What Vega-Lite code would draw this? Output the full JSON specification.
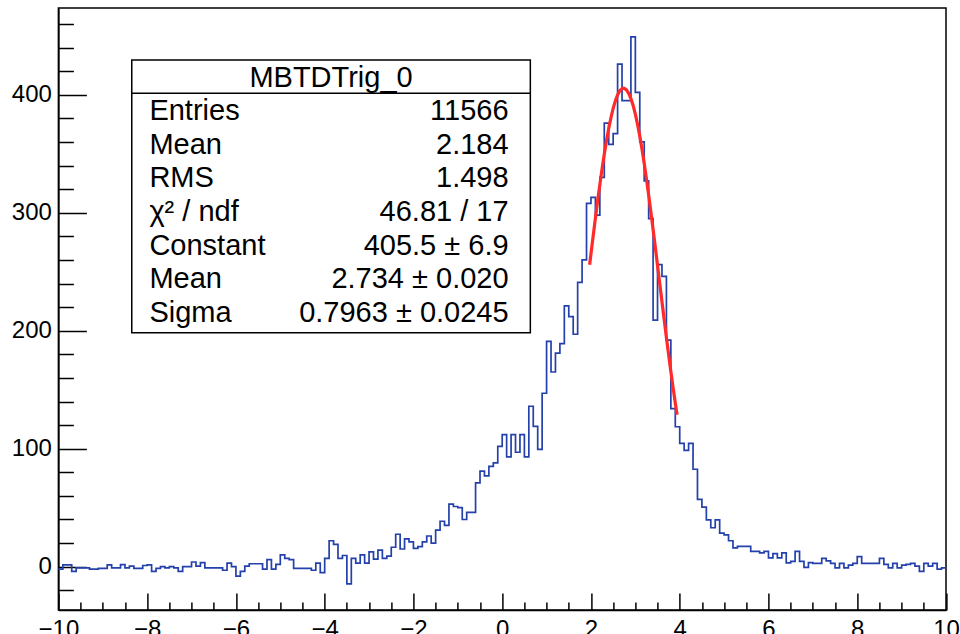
{
  "$schema": "https://vega.github.io/schema/vega-lite/v6.json",
  "width": 887.6,
  "height": 602,
  "autosize": {"type": "none"},
  "padding": {"left": 58.4, "top": 8, "right": 14, "bottom": 24},
  "background": "white",
  "config": {
    "view": {"stroke": "black", "strokeWidth": 1.5},
    "font": "Liberation Sans",
    "axis": {"grid": false, "title": null, "domainColor": "black", "domainWidth": 1.5, "tickColor": "black", "tickWidth": 1.5, "labelColor": "black", "labelFont": "Liberation Sans", "labelFontSize": 24, "labelFlush": false, "labelOverlap": false}
  },
  "datasets": {
    "hist": [
      {"x": -10.0, "y": -2}, {"x": -9.9, "y": 1.5}, {"x": -9.8, "y": 1.5}, {"x": -9.7, "y": -4}, {"x": -9.6, "y": -1},
      {"x": -9.5, "y": -1}, {"x": -9.4, "y": -1}, {"x": -9.3, "y": -2}, {"x": -9.2, "y": -2}, {"x": -9.1, "y": -1.5},
      {"x": -9.0, "y": -1.5}, {"x": -8.9, "y": 1.5}, {"x": -8.8, "y": -1}, {"x": -8.7, "y": -1}, {"x": -8.6, "y": 1.7},
      {"x": -8.5, "y": -1}, {"x": -8.4, "y": 0.5}, {"x": -8.3, "y": -1.5}, {"x": -8.2, "y": -1.5}, {"x": -8.1, "y": 1},
      {"x": -8.0, "y": 1.5}, {"x": -7.9, "y": -4}, {"x": -7.8, "y": -1.5}, {"x": -7.7, "y": 0}, {"x": -7.6, "y": -1},
      {"x": -7.5, "y": 0}, {"x": -7.4, "y": -1}, {"x": -7.3, "y": -4}, {"x": -7.2, "y": 0}, {"x": -7.1, "y": 0},
      {"x": -7.0, "y": 4}, {"x": -6.9, "y": 0.5}, {"x": -6.8, "y": 3.5}, {"x": -6.7, "y": -1}, {"x": -6.6, "y": -1},
      {"x": -6.5, "y": -1}, {"x": -6.4, "y": -1}, {"x": -6.3, "y": -3}, {"x": -6.2, "y": 3}, {"x": -6.1, "y": 0},
      {"x": -6.0, "y": -8}, {"x": -5.9, "y": -4}, {"x": -5.8, "y": 0.5}, {"x": -5.7, "y": 2.5}, {"x": -5.6, "y": 2.5},
      {"x": -5.5, "y": 2.5}, {"x": -5.4, "y": -2}, {"x": -5.3, "y": 6}, {"x": -5.2, "y": -2}, {"x": -5.1, "y": 2},
      {"x": -5.0, "y": 10}, {"x": -4.9, "y": 7}, {"x": -4.8, "y": 6}, {"x": -4.7, "y": -1.5}, {"x": -4.6, "y": -1.5},
      {"x": -4.5, "y": -1.5}, {"x": -4.4, "y": -1.5}, {"x": -4.3, "y": -3}, {"x": -4.2, "y": 3}, {"x": -4.1, "y": -5},
      {"x": -4.0, "y": 7}, {"x": -3.9, "y": 22}, {"x": -3.8, "y": 19}, {"x": -3.7, "y": 7}, {"x": -3.6, "y": 9.5},
      {"x": -3.5, "y": -14.5}, {"x": -3.4, "y": 7}, {"x": -3.3, "y": 3}, {"x": -3.2, "y": 10}, {"x": -3.1, "y": 3},
      {"x": -3.0, "y": 12.5}, {"x": -2.9, "y": 6.5}, {"x": -2.8, "y": 14}, {"x": -2.7, "y": 7}, {"x": -2.6, "y": 9},
      {"x": -2.5, "y": 16.5}, {"x": -2.4, "y": 27.5}, {"x": -2.3, "y": 15}, {"x": -2.2, "y": 23.5}, {"x": -2.1, "y": 21},
      {"x": -2.0, "y": 15.5}, {"x": -1.9, "y": 17}, {"x": -1.8, "y": 21}, {"x": -1.7, "y": 26}, {"x": -1.6, "y": 20},
      {"x": -1.5, "y": 31}, {"x": -1.4, "y": 38.5}, {"x": -1.3, "y": 35}, {"x": -1.2, "y": 53}, {"x": -1.1, "y": 51},
      {"x": -1.0, "y": 50}, {"x": -0.9, "y": 40}, {"x": -0.8, "y": 46}, {"x": -0.7, "y": 46}, {"x": -0.6, "y": 71},
      {"x": -0.5, "y": 81}, {"x": -0.4, "y": 77}, {"x": -0.3, "y": 85}, {"x": -0.2, "y": 88}, {"x": -0.1, "y": 102},
      {"x": 0.0, "y": 112}, {"x": 0.1, "y": 93}, {"x": 0.2, "y": 112}, {"x": 0.3, "y": 97}, {"x": 0.4, "y": 112},
      {"x": 0.5, "y": 93}, {"x": 0.6, "y": 136}, {"x": 0.7, "y": 119}, {"x": 0.8, "y": 99.5}, {"x": 0.9, "y": 147},
      {"x": 1.0, "y": 191}, {"x": 1.1, "y": 165}, {"x": 1.2, "y": 181}, {"x": 1.3, "y": 189}, {"x": 1.4, "y": 221},
      {"x": 1.5, "y": 212}, {"x": 1.6, "y": 197}, {"x": 1.7, "y": 241}, {"x": 1.8, "y": 260}, {"x": 1.9, "y": 308},
      {"x": 2.0, "y": 313}, {"x": 2.1, "y": 298}, {"x": 2.2, "y": 330}, {"x": 2.3, "y": 376}, {"x": 2.4, "y": 358},
      {"x": 2.5, "y": 367}, {"x": 2.6, "y": 426}, {"x": 2.7, "y": 395}, {"x": 2.8, "y": 395}, {"x": 2.9, "y": 449},
      {"x": 3.0, "y": 402}, {"x": 3.1, "y": 360}, {"x": 3.2, "y": 327}, {"x": 3.3, "y": 295}, {"x": 3.4, "y": 209},
      {"x": 3.5, "y": 256}, {"x": 3.6, "y": 246}, {"x": 3.7, "y": 192}, {"x": 3.8, "y": 134}, {"x": 3.9, "y": 118.6},
      {"x": 4.0, "y": 104.5}, {"x": 4.1, "y": 98.5}, {"x": 4.2, "y": 104.5}, {"x": 4.3, "y": 82.6}, {"x": 4.4, "y": 57},
      {"x": 4.5, "y": 50.5}, {"x": 4.6, "y": 39.7}, {"x": 4.7, "y": 33}, {"x": 4.8, "y": 39.7}, {"x": 4.9, "y": 28.5},
      {"x": 5.0, "y": 27}, {"x": 5.1, "y": 22}, {"x": 5.2, "y": 16}, {"x": 5.3, "y": 17.3}, {"x": 5.4, "y": 17.3},
      {"x": 5.5, "y": 17.3}, {"x": 5.6, "y": 13}, {"x": 5.7, "y": 13}, {"x": 5.8, "y": 11.7}, {"x": 5.9, "y": 13},
      {"x": 6.0, "y": 7.4}, {"x": 6.1, "y": 11}, {"x": 6.2, "y": 7.4}, {"x": 6.3, "y": 11.7}, {"x": 6.4, "y": 3.2},
      {"x": 6.5, "y": 4.5}, {"x": 6.6, "y": 13}, {"x": 6.7, "y": 4.5}, {"x": 6.8, "y": -0.5}, {"x": 6.9, "y": 3.5},
      {"x": 7.0, "y": 2.8}, {"x": 7.1, "y": 2.8}, {"x": 7.2, "y": 7}, {"x": 7.3, "y": 5}, {"x": 7.4, "y": 2.8},
      {"x": 7.5, "y": -1}, {"x": 7.6, "y": 2.8}, {"x": 7.7, "y": -1}, {"x": 7.8, "y": 1.4}, {"x": 7.9, "y": 2.8},
      {"x": 8.0, "y": 8.5}, {"x": 8.1, "y": 2.8}, {"x": 8.2, "y": 2.8}, {"x": 8.3, "y": 2.8}, {"x": 8.4, "y": 2.8},
      {"x": 8.5, "y": 7}, {"x": 8.6, "y": 2}, {"x": 8.7, "y": -1}, {"x": 8.8, "y": 2.8}, {"x": 8.9, "y": -1},
      {"x": 9.0, "y": 1.4}, {"x": 9.1, "y": 2}, {"x": 9.2, "y": 2.8}, {"x": 9.3, "y": 0.5}, {"x": 9.4, "y": -4},
      {"x": 9.5, "y": 2.8}, {"x": 9.6, "y": 0.5}, {"x": 9.7, "y": 2.8}, {"x": 9.8, "y": -2}, {"x": 9.9, "y": -1},
      {"x": 10.0, "y": -1}
    ],
    "fit": [
      {"x": 1.97, "y": 255.9}, {"x": 2.0, "y": 265.2}, {"x": 2.05, "y": 280.4}, {"x": 2.1, "y": 295.4}, {"x": 2.15, "y": 309.9},
      {"x": 2.2, "y": 323.8}, {"x": 2.25, "y": 337.1}, {"x": 2.3, "y": 349.5}, {"x": 2.35, "y": 361.0}, {"x": 2.4, "y": 371.4},
      {"x": 2.45, "y": 380.5}, {"x": 2.5, "y": 388.4}, {"x": 2.55, "y": 394.8}, {"x": 2.6, "y": 399.8}, {"x": 2.65, "y": 403.3},
      {"x": 2.7, "y": 405.1}, {"x": 2.734, "y": 405.5}, {"x": 2.75, "y": 405.4}, {"x": 2.8, "y": 404.1}, {"x": 2.85, "y": 401.2},
      {"x": 2.9, "y": 396.8}, {"x": 2.95, "y": 390.9}, {"x": 3.0, "y": 383.5}, {"x": 3.05, "y": 374.8}, {"x": 3.1, "y": 364.9},
      {"x": 3.15, "y": 353.8}, {"x": 3.2, "y": 341.7}, {"x": 3.25, "y": 328.7}, {"x": 3.3, "y": 315.0}, {"x": 3.35, "y": 300.6},
      {"x": 3.4, "y": 285.8}, {"x": 3.45, "y": 270.7}, {"x": 3.5, "y": 255.3}, {"x": 3.55, "y": 239.9}, {"x": 3.6, "y": 224.5},
      {"x": 3.65, "y": 209.2}, {"x": 3.7, "y": 194.3}, {"x": 3.75, "y": 179.7}, {"x": 3.8, "y": 165.5}, {"x": 3.85, "y": 151.9},
      {"x": 3.9, "y": 138.8}, {"x": 3.94, "y": 128.8}
    ],
    "stats": [
      {"row": 1, "name": "Entries", "value": "11566"},
      {"row": 2, "name": "Mean", "value": "2.184"},
      {"row": 3, "name": "RMS", "value": "1.498"},
      {"row": 4, "name": "χ² / ndf", "value": "46.81 / 17"},
      {"row": 5, "name": "Constant", "value": "405.5 ± 6.9"},
      {"row": 6, "name": "Mean", "value": "2.734 ± 0.020"},
      {"row": 7, "name": "Sigma", "value": "0.7963 ± 0.0245"}
    ],
    "title": [{"row": 0, "name": "MBTDTrig_0"}]
  },
  "layer": [
    {
      "data": {"name": "hist"},
      "mark": {"type": "line", "interpolate": "step-after", "color": "#2440aa", "strokeWidth": 1.7},
      "encoding": {
        "x": {"field": "x", "type": "quantitative", "scale": {"domain": [-10, 10], "nice": false, "zero": false},
          "axis": {"orient": "bottom", "values": [-10, -8, -6, -4, -2, 0, 2, 4, 6, 8, 10], "tickSize": -17, "labelPadding": 24}},
        "y": {"field": "y", "type": "quantitative", "scale": {"domain": [-36.7, 473.5], "nice": false, "zero": false},
          "axis": {"orient": "left", "values": [0, 100, 200, 300, 400], "tickSize": -28, "labelPadding": 35}}
      }
    },
    {
      "data": {"name": "fit"},
      "mark": {"type": "line", "color": "#ff2a2a", "strokeWidth": 3.2},
      "encoding": {
        "x": {"field": "x", "type": "quantitative",
          "axis": {"orient": "bottom", "values": [-9.5, -9, -8.5, -7.5, -7, -6.5, -5.5, -5, -4.5, -3.5, -3, -2.5, -1.5, -1, -0.5, 0.5, 1, 1.5, 2.5, 3, 3.5, 4.5, 5, 5.5, 6.5, 7, 7.5, 8.5, 9, 9.5], "tickSize": -8, "labels": false, "domain": false}},
        "y": {"field": "y", "type": "quantitative", "scale": {"domain": [-36.7, 473.5], "nice": false, "zero": false},
          "axis": {"orient": "left", "values": [-20, 20, 40, 60, 80, 120, 140, 160, 180, 220, 240, 260, 280, 320, 340, 360, 380, 420, 440, 460], "tickSize": -15, "labels": false, "domain": false}}
      }
    },
    {
      "data": {"values": [{}]},
      "mark": {"type": "rect", "fill": "white", "stroke": "black", "strokeWidth": 1.5},
      "encoding": {
        "x": {"datum": -8.347, "type": "quantitative", "axis": null},
        "x2": {"datum": 0.634},
        "y": {"datum": 429.4, "type": "quantitative", "scale": {"domain": [-36.7, 473.5], "nice": false, "zero": false}, "axis": null},
        "y2": {"datum": 198.3}
      }
    },
    {
      "data": {"values": [{}]},
      "mark": {"type": "rule", "color": "black", "strokeWidth": 1.5},
      "encoding": {
        "x": {"datum": -8.347, "type": "quantitative", "axis": null},
        "x2": {"datum": 0.634},
        "y": {"datum": 401.2, "type": "quantitative", "scale": {"domain": [-36.7, 473.5], "nice": false, "zero": false}, "axis": null}
      }
    },
    {
      "data": {"name": "title"},
      "mark": {"type": "text", "align": "center", "baseline": "alphabetic", "fontSize": 29, "font": "Liberation Sans", "color": "black"},
      "encoding": {
        "x": {"datum": -3.857, "type": "quantitative", "axis": null},
        "y": {"field": "row", "type": "quantitative", "scale": {"domain": [0, 7], "range": [78.7, 313.8]}, "axis": null},
        "text": {"field": "name"}
      }
    },
    {
      "data": {"name": "stats"},
      "mark": {"type": "text", "align": "left", "baseline": "alphabetic", "fontSize": 29, "font": "Liberation Sans", "color": "black"},
      "encoding": {
        "x": {"datum": -7.95, "type": "quantitative", "axis": null},
        "y": {"field": "row", "type": "quantitative", "scale": {"domain": [0, 7], "range": [78.7, 313.8]}, "axis": null},
        "text": {"field": "name"}
      }
    },
    {
      "data": {"name": "stats"},
      "mark": {"type": "text", "align": "right", "baseline": "alphabetic", "fontSize": 29, "font": "Liberation Sans", "color": "black"},
      "encoding": {
        "x": {"datum": 0.144, "type": "quantitative", "axis": null},
        "y": {"field": "row", "type": "quantitative", "scale": {"domain": [0, 7], "range": [78.7, 313.8]}, "axis": null},
        "text": {"field": "value"}
      }
    }
  ],
  "resolve": {"scale": {"y": "independent"}, "axis": {"x": "independent", "y": "independent"}}
}
